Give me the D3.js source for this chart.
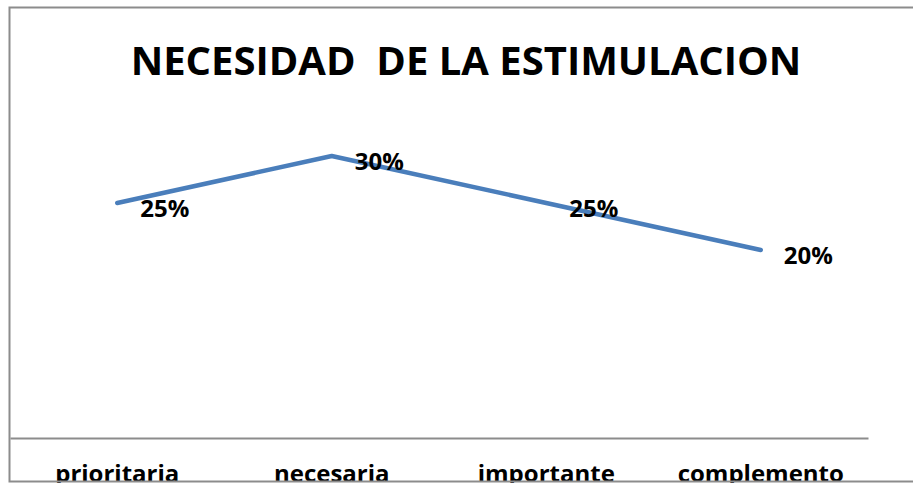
<!DOCTYPE html>
<html>
<head>
<meta charset="utf-8">
<script src="https://cdn.jsdelivr.net/npm/d3@7"></script>
<style>
  html, body { margin: 0; padding: 0; background: #fff; overflow: hidden; }
  text { font-family: "Open Sans", sans-serif; font-weight: bold; fill: #000; }
</style>
</head>
<body>
<div id="chart"></div>
<script>
const categories = ['prioritaria', 'necesaria', 'importante', 'complemento'];
const values = [0.25, 0.30, 0.25, 0.20];
const valueLabels = ['25%', '30%', '25%', '20%'];
const title = 'NECESIDAD\u00a0\u00a0DE LA ESTIMULACION';

const width = 913;
const height = 483;
const plot = { left: 10, right: 868, top: 62, bottom: 438 };

const svg = d3.select('#chart')
  .append('svg')
  .attr('width', width)
  .attr('height', height);

svg.append('text')
  .attr('x', 466)
  .attr('y', 75)
  .attr('text-anchor', 'middle')
  .style('font-size', '40px')
  .text(title);

const x = d3.scaleBand()
  .domain(categories)
  .range([plot.left, plot.right]);

const y = d3.scaleLinear()
  .domain([0, 0.4])
  .range([plot.bottom, plot.top]);

const cx = d => x(d) + x.bandwidth() / 2;

// category axis, labels run past the bottom edge like in the original
const xAxis = svg.append('g')
  .attr('transform', `translate(0,${plot.bottom})`)
  .call(d3.axisBottom(x).tickSize(0).tickPadding(27));
xAxis.select('.domain').attr('stroke', '#8c8c8c').attr('stroke-width', 2);
xAxis.selectAll('text')
  .style('font-size', '24px')
  .style('font-family', '"Open Sans", sans-serif')
  .style('font-weight', 'bold')
  .attr('dy', '0.71em');

const line = d3.line()
  .x((d, i) => cx(categories[i]))
  .y(d => y(d));

svg.append('path')
  .datum(values)
  .attr('fill', 'none')
  .attr('stroke', '#4a7ebb')
  .attr('stroke-width', 4.5)
  .attr('stroke-linejoin', 'round')
  .attr('stroke-linecap', 'round')
  .attr('d', line);

svg.append('g')
  .selectAll('text')
  .data(values)
  .enter()
  .append('text')
  .attr('x', (d, i) => cx(categories[i]) + 23)
  .attr('y', d => y(d) + 14)
  .style('font-size', '24px')
  .text((d, i) => valueLabels[i]);

// chart area border on top (right edge sits outside the picture)
svg.append('rect')
  .attr('x', 9.5)
  .attr('y', 7.5)
  .attr('width', 920)
  .attr('height', 474)
  .attr('fill', 'none')
  .attr('stroke', '#8c8c8c')
  .attr('stroke-width', 2);
</script>
</body>
</html>
